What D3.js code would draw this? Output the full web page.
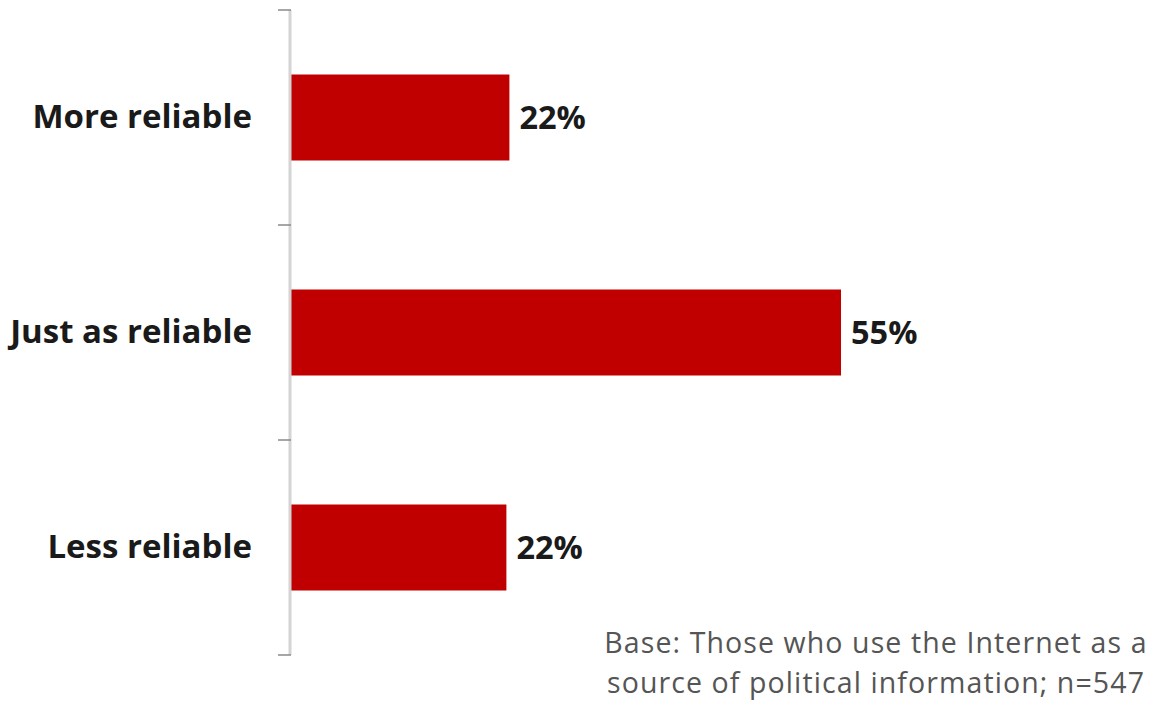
<!DOCTYPE html>
<html><head><meta charset="utf-8">
<script src="https://cdn.jsdelivr.net/npm/d3@7"></script>
<style>body{margin:0;background:#fff;} svg{display:block;}</style>
</head><body>
<script>
const categories = ["More reliable", "Just as reliable", "Less reliable"];
const values = [21.9, 55, 21.6];
const valueLabels = ["22%", "55%", "22%"];
const noteLines = ["Base: Those who use the Internet as a", "source of political information; n=547"];

const W = 1157, H = 702;
const svg = d3.select("body").append("svg").attr("width", W).attr("height", H);
const FONT = "'Open Sans', Lato, sans-serif";

const x = d3.scaleLinear().domain([0, 60]).range([290, 290 + 601.1]);
const y = d3.scaleBand().domain(categories).range([10, 655]).paddingInner(0.6).paddingOuter(0.3);

// bars
svg.selectAll("rect.bar").data(values).enter().append("rect")
  .attr("class", "bar")
  .attr("x", x(0))
  .attr("y", (d, i) => y(categories[i]))
  .attr("width", d => x(d) - x(0))
  .attr("height", y.bandwidth())
  .attr("fill", "#c00000");

// axis line
svg.append("line").attr("x1", 290).attr("x2", 290).attr("y1", 10).attr("y2", 655)
  .attr("stroke", "#d4d4d4").attr("stroke-width", 3);
// tick marks at band boundaries
const step = y.step();
const boundaries = d3.range(categories.length + 1).map(i => 10 + i * step);
svg.selectAll("line.tick").data(boundaries).enter().append("line")
  .attr("x1", 278).attr("x2", 291).attr("y1", d => d).attr("y2", d => d)
  .attr("stroke", "#8a8a8a").attr("stroke-width", 1.5);

// category labels
svg.selectAll("text.cat").data(categories).enter().append("text")
  .attr("x", 252).attr("y", d => y(d) + y.bandwidth() / 2)
  .attr("dy", "0.33em").attr("text-anchor", "end")
  .attr("font-family", FONT).attr("font-weight", "bold")
  .attr("font-size", 33).attr("fill", "#1a1a1a")
  .text(d => d);

// value labels
svg.selectAll("text.val").data(values).enter().append("text")
  .attr("x", d => x(d) + 10).attr("y", (d, i) => y(categories[i]) + y.bandwidth() / 2)
  .attr("dy", "0.35em")
  .attr("font-family", FONT).attr("font-weight", "bold")
  .attr("font-size", 32.5).attr("fill", "#1a1a1a")
  .text((d, i) => valueLabels[i]);

// note
svg.selectAll("text.note").data(noteLines).enter().append("text")
  .attr("x", 876).attr("y", (d, i) => 653 + i * 40)
  .attr("text-anchor", "middle")
  .attr("font-family", FONT)
  .attr("font-size", 28.5).attr("letter-spacing", 1.1).attr("fill", "#555")
  .text(d => d);
</script>
</body></html>
